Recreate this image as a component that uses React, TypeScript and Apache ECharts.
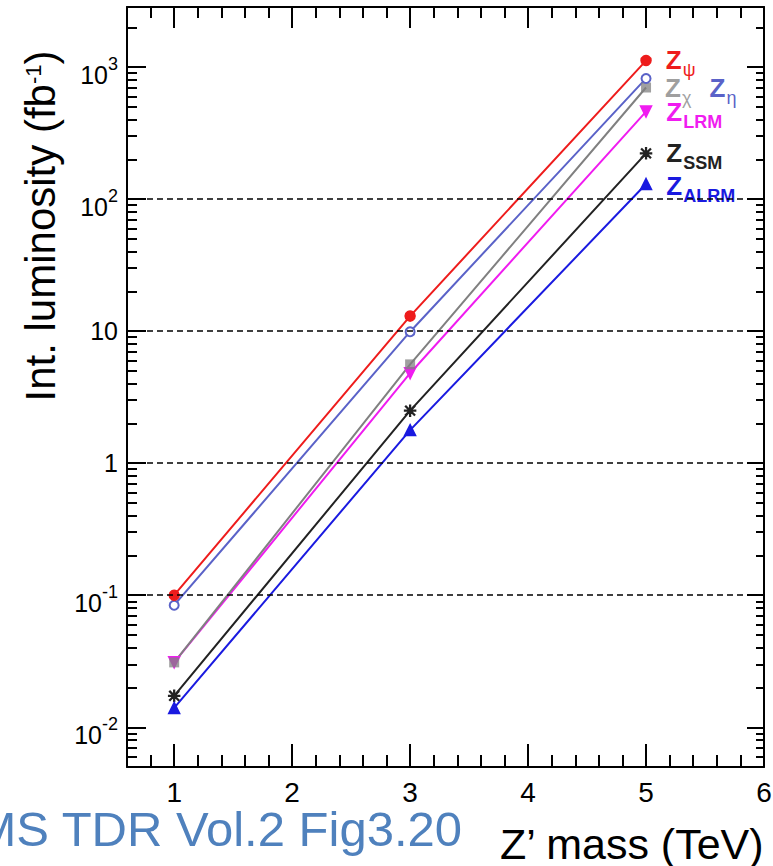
import React, { useEffect, useRef } from 'react';
import * as echarts from 'echarts';

// ---- data ----
const masses = [1, 3, 5]; // Z' mass (TeV)
const zPsi = [0.1, 13, 1120];
const zEta = [0.084, 9.9, 820];
const zChi = [0.031, 5.6, 700];
const zLRM = [0.031, 4.8, 460];
const zSSM = [0.0173, 2.5, 222];
const zALRM = [0.014, 1.78, 130];

const xTickLabels = [1, 2, 3, 4, 5, 6];
const yDecades = [0.01, 0.1, 1, 10, 100, 1000];
const dashedLevels = [0.1, 1, 10, 100];

const X_MIN = 0.6;
const X_MAX = 6;
const X_MINOR_STEP = 0.2;
const Y_MIN = 0.005;
const Y_MAX = 2850;

const GRID = { left: 127, top: 7, width: 637, height: 760 };

const FONT = '"Liberation Sans", Arial, Helvetica, sans-serif';

const ASTERISK =
  'path://M0 9.3L20 9.3L20 10.7L0 10.7Z M9.3 0L10.7 0L10.7 20L9.3 20Z M2.5 1.5L18.5 17.5L17.5 18.5L1.5 2.5Z M17.5 1.5L18.5 2.5L2.5 18.5L1.5 17.5Z';

// log-axis minor tick positions (2..9 per decade)
const yMinor: number[] = [];
for (let e = -3; e <= 3; e++) {
  for (let k = 2; k <= 9; k++) {
    const v = k * Math.pow(10, e);
    if (v > Y_MIN * 1.0001 && v < Y_MAX * 0.9999) yMinor.push(v);
  }
}

// minor y ticks as short segments in data space
const DEC_PX = GRID.height / (Math.log10(Y_MAX) - Math.log10(Y_MIN));
const X_PER_PX = (X_MAX - X_MIN) / GRID.width;
const xLo = X_MIN + 0.0005;
const xHi = X_MAX - 0.0005;
const yMinorSegments: any[] = [];
yMinor.forEach((v) => {
  yMinorSegments.push([{ coord: [xLo, v] }, { coord: [X_MIN + 10 * X_PER_PX, v] }]);
  yMinorSegments.push([{ coord: [xHi, v] }, { coord: [X_MAX - 8 * X_PER_PX, v] }]);
});

function richFor(color: string, subBold: boolean) {
  return {
    z: { fontFamily: FONT, fontSize: 26, fontWeight: 'bold', color, lineHeight: 26, verticalAlign: 'top' },
    s: {
      fontFamily: FONT,
      fontSize: 18,
      fontWeight: subBold ? 'bold' : 'normal',
      color,
      lineHeight: 18,
      padding: [14, 0, 0, 1],
      verticalAlign: 'top',
    },
  };
}

function lineSeries(
  name: string,
  values: number[],
  color: string,
  symbol: string,
  symbolSize: number,
  sub: string,
  subBold: boolean,
  labelOffset: number[],
  extra: any = {}
) {
  return {
    name,
    type: 'line',
    xAxisIndex: 0,
    yAxisIndex: 0,
    data: masses.map((m, i) => {
      const item: any = { value: [m, values[i]] };
      if (i === masses.length - 1) {
        item.label = {
          show: true,
          position: 'right',
          distance: 14,
          offset: labelOffset,
          formatter: `{z|Z}{s|${sub}}`,
          rich: richFor(color, subBold),
        };
      }
      return item;
    }),
    symbol,
    symbolSize,
    showAllSymbol: true,
    z: 4,
    lineStyle: { color, width: 2 },
    itemStyle: { color, borderColor: color, borderWidth: 1.5 },
    label: { show: false },
    emphasis: { disabled: true },
    ...extra,
  };
}

const LINE = { color: '#000', width: 2 };
const TICK = { color: '#000', width: 2 };

function xAxisDef(position: string, len: number, minor: boolean, withLabels: boolean) {
  const ax: any = {
    type: 'value',
    position,
    min: X_MIN,
    max: X_MAX,
    axisLine: { show: !minor, onZero: false, lineStyle: LINE },
    axisTick: { show: true, inside: true, length: len, lineStyle: TICK },
    splitLine: { show: false },
    minorTick: { show: false },
    axisLabel: withLabels
      ? {
          show: true,
          customValues: xTickLabels,
          color: '#000',
          fontSize: 28,
          fontFamily: FONT,
          margin: 11,
          formatter: (v: number) => String(v),
        }
      : { show: false },
  };
  if (minor) ax.interval = X_MINOR_STEP;
  return ax;
}

export default function App() {
  const ref = useRef<HTMLDivElement>(null);

  useEffect(() => {
    if (!ref.current) return;
    const chart = echarts.init(ref.current, undefined, { renderer: 'svg' });

    const yLabel = {
      show: true,
      customValues: yDecades,
      color: '#000',
      margin: 9,
      formatter: (value: number) => {
        const e = Math.round(Math.log10(value));
        if (e === 0) return '{p|1}';
        if (e === 1) return '{p|10}';
        return `{a|10}{s|${e}}`;
      },
      rich: {
        p: { fontFamily: FONT, fontSize: 25, lineHeight: 25, color: '#000' },
        a: { fontFamily: FONT, fontSize: 25, lineHeight: 25, padding: [8, 0, 0, 0], verticalAlign: 'top', color: '#000' },
        s: { fontFamily: FONT, fontSize: 18, lineHeight: 18, verticalAlign: 'top', color: '#000' },
      },
    };

    const yAxisDef = (position: string, len: number, withLabels: boolean) => ({
      type: 'log',
      logBase: 10,
      position,
      min: Y_MIN,
      max: Y_MAX,
      axisLine: { show: true, onZero: false, lineStyle: LINE },
      axisTick: { show: true, inside: true, length: len, lineStyle: TICK },
      splitLine: { show: false },
      minorTick: { show: false },
      axisLabel: withLabels ? yLabel : { show: false },
    });

    const option: any = {
      animation: false,
      backgroundColor: '#ffffff',
      grid: { ...GRID, show: false, containLabel: false, outerBoundsMode: 'none' },
      xAxis: [
        xAxisDef('bottom', 23, false, true),
        xAxisDef('bottom', 12, true, false),
        xAxisDef('top', 21, false, false),
        xAxisDef('top', 11, true, false),
      ],
      yAxis: [yAxisDef('left', 19, true), yAxisDef('right', 17, false)],
      series: [
        lineSeries('Z_LRM', zLRM, '#f01cf0', 'triangle', 11, 'LRM', true, [0, 0], {
          symbolRotate: 180,
          markLine: {
            silent: true,
            symbol: ['none', 'none'],
            label: { show: false },
            emphasis: { disabled: true },
            lineStyle: { type: [6, 4], color: '#000', width: 1.5 },
            data: dashedLevels.map((v) => ({ yAxis: v })),
          },
        }),
        lineSeries('Z_chi', zChi, '#808080', 'rect', 10, 'χ', false, [0, 0], {
          itemStyle: { color: '#808080', opacity: 0.75 },
        }),
        lineSeries('Z_eta', zEta, '#5a62c8', 'emptyCircle', 9, 'η', false, [44, 10]),
        lineSeries('Z_psi', zPsi, '#ee1c1c', 'circle', 10, 'ψ', false, [0, -1], {
          markLine: {
            silent: true,
            symbol: ['none', 'none'],
            label: { show: false },
            emphasis: { disabled: true },
            lineStyle: { type: 'solid', color: '#000', width: 2, opacity: 1 },
            data: yMinorSegments,
          },
        }),
        lineSeries('Z_SSM', zSSM, '#222222', ASTERISK, 11, 'SSM', true, [0, 0]),
        lineSeries('Z_ALRM', zALRM, '#1a1ae0', 'triangle', 11, 'ALRM', true, [0, 2]),
      ],
      graphic: {
        elements: [
          {
            type: 'text',
            x: 40,
            y: 226,
            rotation: Math.PI / 2,
            silent: true,
            style: {
              text: '{m|Int. luminosity (fb}{s|-1}{m|)}',
              textAlign: 'center',
              textVerticalAlign: 'middle',
              rich: {
                m: { fontFamily: FONT, fontSize: 42, lineHeight: 42, fill: '#000' },
                s: { fontFamily: FONT, fontSize: 22, lineHeight: 22, padding: [3, 0, 0, 0], verticalAlign: 'top', fill: '#000' },
              },
            },
          },
          {
            type: 'text',
            x: 500,
            y: 844,
            silent: true,
            style: {
              text: 'Z’ mass (TeV)',
              fontFamily: FONT,
              fontSize: 43,
              fill: '#000',
              textAlign: 'left',
              textVerticalAlign: 'middle',
            },
          },
          {
            type: 'text',
            x: 462,
            y: 829,
            silent: true,
            style: {
              text: 'CMS TDR Vol.2 Fig3.20',
              fontFamily: FONT,
              fontSize: 49,
              fill: '#4f81bd',
              textAlign: 'right',
              textVerticalAlign: 'middle',
            },
          },
        ],
      },
    };

    chart.setOption(option);
    return () => chart.dispose();
  }, []);

  return (
    <div
      ref={ref}
      style={{ position: 'absolute', left: 0, top: 0, width: 773, height: 866, background: '#fff' }}
    />
  );
}
